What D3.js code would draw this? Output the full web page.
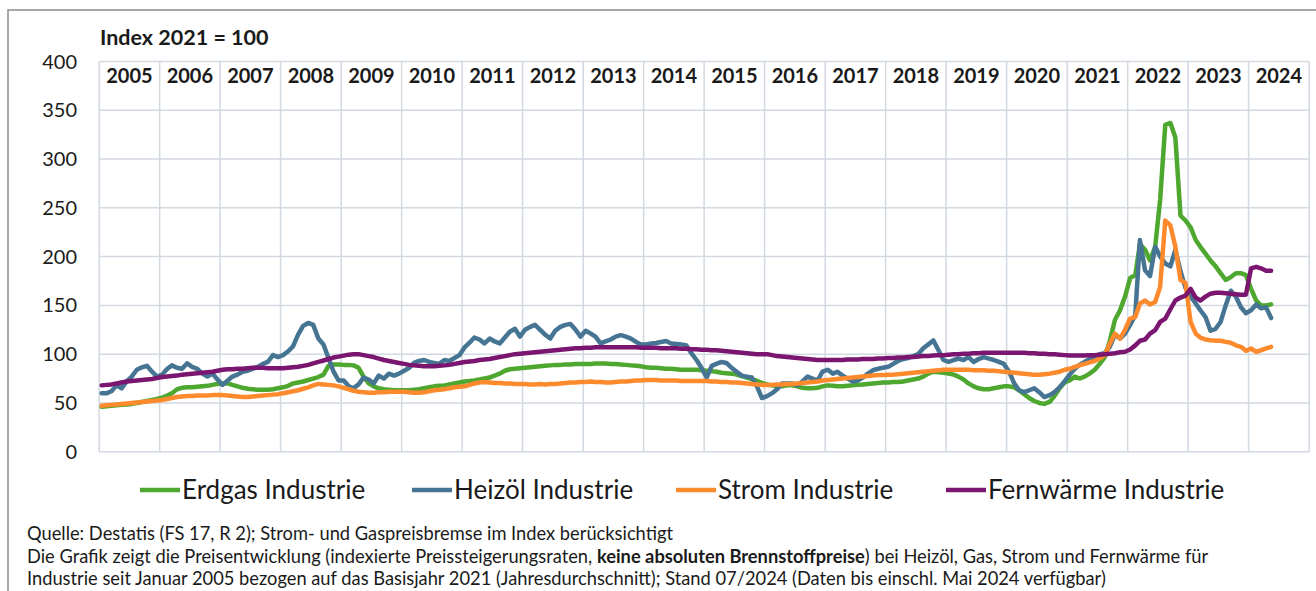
<!DOCTYPE html>
<html>
<head>
<meta charset="utf-8">
<script src="https://cdn.jsdelivr.net/npm/d3@7"></script>
<style>
  body { margin: 0; background: #fff; }
  text { font-family: Lato, "Open Sans", sans-serif; fill: #1a1a1a; }
</style>
</head>
<body>
<div id="chart"></div>
<script>
// monthly index values, Jan 2005 - May 2024 (Index 2021 = 100)
const years = [2005, 2006, 2007, 2008, 2009, 2010, 2011, 2012, 2013, 2014, 2015, 2016, 2017, 2018, 2019, 2020, 2021, 2022, 2023, 2024]
const yTicks = [0, 50, 100, 150, 200, 250, 300, 350, 400]

const erdgas = [
  46, 46.5, 47, 47.5, 48, 48.5, 49, 50, 51, 52, 53, 54,
  55.5, 57.5, 60, 64, 65.5, 66, 66, 66.5, 67, 67.5, 68.5, 69.5,
  70, 70, 68.5, 67, 65.5, 64.5, 64, 63.5, 63.5, 63.5, 64, 65,
  66, 67.5, 70, 71, 72, 73.5, 75, 76.5, 79, 88, 89.5, 89.5,
  89, 89, 88.5, 86, 77, 70, 67, 65, 64, 63.5, 63, 63,
  63, 63, 63.5, 64, 65, 66, 67, 67.5, 68, 69, 70, 71,
  72, 72.5, 73, 74, 75, 76, 78, 80, 83, 84.5, 85, 85.5,
  86, 86.5, 87, 87.5, 88, 88.5, 89, 89, 89.5, 89.5, 90, 90,
  90, 90, 90.5, 90.5, 90.5, 90, 90, 89.5, 89, 88.5, 88, 87.5,
  86.5, 86, 86, 85.5, 85, 85, 84.5, 84, 84, 84, 84, 83.5,
  83, 82.5, 82, 81, 80.5, 80, 79, 77.5, 76, 74.5, 72.5, 70.5,
  69, 68, 67, 67, 68, 68, 67, 65.5, 65, 65, 65.5, 67,
  68, 67.5, 67, 67, 67.5, 68, 68.5, 69, 69.5, 70, 70.5, 71,
  71, 71.5, 71.5, 72, 73, 74, 75, 77, 80, 82, 81.5, 81,
  80, 79, 77, 74, 70, 67, 65, 64, 64, 65, 66, 67,
  67, 66, 63, 59, 55, 52, 50, 49, 51, 57, 65, 71,
  73, 77, 75, 77, 80, 84, 90, 97, 114, 135, 145, 159,
  178, 181, 213, 207, 196, 210, 258, 335, 337, 322, 242, 237,
  230, 217, 210, 203, 196, 190, 183, 176, 179, 183, 183, 181,
  167, 155, 150, 150, 151
]

const heizoel = [
  60, 60, 62, 68, 65, 72, 77, 84, 86.5, 88, 82, 77,
  79, 85, 88.5, 86, 85, 90.5, 87, 85, 80, 77, 80, 74,
  68.5, 73, 77, 79, 82, 83, 85, 87, 90, 92, 99, 97,
  99, 103, 108, 120, 129, 132, 130, 116, 110, 96, 82, 73,
  73, 67, 65, 69, 76, 74, 70, 78, 75, 80, 78, 80,
  83, 86, 91, 93, 94, 92, 91, 90, 94, 93, 96, 99,
  107, 112, 117, 115, 111, 116, 113, 111, 117, 123, 126, 118,
  125, 128, 130, 125, 120, 116, 124, 128, 130, 131, 125, 118,
  124, 121, 118, 111, 113, 115, 118, 119.5, 118, 116, 112.5, 110,
  110, 111, 111.5, 112.5, 113.5, 111, 110.5, 110, 109, 101, 94, 86,
  76, 88, 90, 92, 91, 86, 82, 78, 77, 76, 67, 55,
  57, 60, 64, 70, 70, 70, 68, 72, 77, 75, 73, 82,
  84, 80, 82, 78, 75, 72, 73, 76, 80, 83.5, 85, 86,
  87, 90, 93, 95, 96, 98, 100, 106, 110, 114, 104, 94,
  92, 94, 95.5, 94, 97, 92, 95, 97, 95.5, 94, 92, 90,
  82, 70, 63, 61, 63, 65, 61, 56, 58, 61, 66, 72,
  79, 85, 89, 92, 95, 97, 100, 101, 108, 120, 116, 121,
  130, 140, 217, 186, 180, 210, 200, 193, 190, 207, 185, 168,
  159, 152, 145, 138, 124, 126, 133, 150, 165, 159, 148, 142,
  145, 151, 147, 148, 137
]

const strom = [
  47, 47.5, 48, 48.5, 49, 49.5, 50, 50.5, 51, 51.5, 52, 52.5,
  53, 54, 55, 56, 56.5, 57, 57, 57.5, 57.5, 57.5, 58, 58,
  58, 57.5, 57, 56.5, 56, 56, 56.5, 57, 57.5, 58, 58.5, 59,
  60, 61, 62, 63, 64.5, 66, 68, 69.5, 69, 68.5, 68, 67,
  65.5, 64, 62.5, 61.5, 61, 60.5, 60.5, 61, 61, 61.5, 61.5, 61.5,
  61.5, 61, 60.5, 60.5, 61, 62, 63, 63.5, 64, 65, 66, 66.5,
  67, 68.5, 70, 71, 71.5, 71, 70.5, 70.5, 70, 70, 69.5, 69.5,
  69.5, 69, 69, 69.5, 69, 69.5, 69.5, 70, 70.5, 71, 71, 71.5,
  71.5, 72, 71.5, 71.5, 71, 71, 71.5, 72, 72, 72.5, 73, 73,
  73.5, 73.5, 73.5, 73, 73, 73, 73, 72.5, 72.5, 72.5, 72.5, 72.5,
  72.5, 72, 72, 71.5, 71.5, 71, 71, 70.5, 70, 69.5, 69, 68.5,
  68.5, 68.5, 69, 69, 69.5, 69.5, 70, 70.5, 71, 71.5, 72, 73,
  73.5, 74, 74.5, 75, 75.5, 76, 76.5, 77, 77.5, 78, 78.5, 78.5,
  79, 79, 79.5, 80, 80.5, 81, 81.5, 82, 82.5, 83, 83.5, 84,
  84, 84, 84, 84, 84, 83.5, 83.5, 83.5, 83, 83, 82.5, 82,
  81.5, 81, 80.5, 80, 79.5, 79, 79, 79.5, 80, 81, 82, 84,
  85, 87, 88.5, 90, 91.5, 93, 95.5, 99, 111, 121, 116, 125,
  136.5, 138, 152, 155, 151, 153.5, 169, 237, 232, 210, 176, 173,
  133, 121, 117, 115, 114.3, 113.7, 113.7, 112.6, 111.6, 109, 107.5, 103.4,
  105.8, 102.4, 104, 105.8, 107.5
]

const fernwaerme = [
  68, 68.5, 69, 70, 71, 72, 72.5, 73, 73.5, 74, 74.5, 75.5,
  76.5, 77, 77.5, 78, 79, 79.5, 80, 80.5, 81, 81.5, 82, 83,
  84, 84.5, 84.5, 85, 85, 85.5, 86, 86, 86, 85.5, 85.5, 85.5,
  85.5, 86, 86.5, 87, 88, 89, 90.5, 92, 93.5, 95, 96.5, 97.5,
  98.5, 99.5, 100, 100, 99, 98, 97, 95.5, 94, 93, 92, 91,
  90, 89, 88.5, 88, 87.5, 87.5, 87.5, 88, 88.5, 89, 90, 91,
  92, 92.5, 93, 94, 94.5, 95, 96, 97, 98, 99, 100, 100.5,
  101, 101.5, 102, 102.5, 103, 103.5, 104, 104.5, 105, 105.5, 106, 106,
  106.5, 106.5, 107, 107, 107, 107, 107, 107, 107, 107, 107, 106.5,
  106.5, 106.5, 106.5, 106, 106, 106, 106, 105.5, 105.5, 105, 105, 104.5,
  104.5, 104, 104, 103.5, 103, 102.5, 102, 101.5, 101, 100.5, 100, 100,
  100, 99, 98, 97.5, 97, 96.5, 96, 95.5, 95, 94.5, 94, 94,
  94, 94, 94, 94, 94.5, 94.5, 94.5, 95, 95, 95, 95.5, 95.5,
  96, 96, 96.5, 96.5, 97, 97, 97.5, 98, 98, 98.5, 99, 99,
  99.5, 100, 100, 100.5, 100.5, 101, 101, 101.5, 101.5, 101.5, 101.5, 101.5,
  101.5, 101.5, 101.5, 101.5, 101, 101, 100.5, 100.5, 100, 100, 99.5, 99,
  98.5, 98.5, 98.5, 98.5, 99, 99, 99.5, 100, 100.5, 101, 102, 102.5,
  104.8, 109, 113.7, 115, 121, 124.6, 133, 136.5, 146, 155, 158, 160,
  167, 158, 155, 159, 162, 163, 163, 162.5, 162, 161.5, 161, 161,
  188, 189.5, 188, 185.5, 185.5
]

const seriesNames = ['Erdgas Industrie', 'Heizöl Industrie', 'Strom Industrie', 'Fernwärme Industrie']
const seriesColors = ['#4ea72e', '#467493', '#fd8a2c', '#7a1570']

const footerLines = [
  [{t: 'Quelle: Destatis (FS 17, R 2); Strom- und Gaspreisbremse im Index berücksichtigt'}],
  [{t: 'Die Grafik zeigt die Preisentwicklung (indexierte Preissteigerungsraten, '},
   {t: 'keine absoluten Brennstoffpreise', b: true},
   {t: ') bei Heizöl, Gas, Strom und Fernwärme für'}],
  [{t: 'Industrie seit Januar 2005 bezogen auf das Basisjahr 2021 (Jahresdurchschnitt); Stand 07/2024 (Daten bis einschl. Mai 2024 verfügbar)'}]
]

const width = 1316
const height = 591
const plot = {left: 99.2, right: 1309.2, top: 61.5, bottom: 451.7}

const svg = d3.select('#chart')
  .append('svg')
  .attr('width', width)
  .attr('height', height)

// outer frame
svg.append('rect')
  .attr('x', 8).attr('y', 10)
  .attr('width', 1330).attr('height', 620)
  .attr('fill', 'none')
  .attr('stroke', '#8c8c8c')
  .attr('stroke-width', 1.5)

const xScale = d3.scaleTime()
  .domain([new Date(2005, 0, 1), new Date(2025, 0, 1)])
  .range([plot.left, plot.right])

const yScale = d3.scaleLinear()
  .domain([0, 400])
  .range([plot.bottom, plot.top])

// grid
const grid = svg.append('g').attr('stroke', '#d2d9e1').attr('stroke-width', 1.5)
grid.selectAll('line.h')
  .data(yTicks)
  .join('line')
  .attr('class', 'h')
  .attr('x1', plot.left).attr('x2', plot.right)
  .attr('y1', d => yScale(d)).attr('y2', d => yScale(d))
grid.selectAll('line.v')
  .data(years.concat([2025]))
  .join('line')
  .attr('class', 'v')
  .attr('x1', d => xScale(new Date(d, 0, 1))).attr('x2', d => xScale(new Date(d, 0, 1)))
  .attr('y1', plot.top).attr('y2', plot.bottom)

// y labels
svg.append('g')
  .selectAll('text')
  .data(yTicks)
  .join('text')
  .attr('x', 77)
  .attr('y', d => yScale(d))
  .attr('dy', '0.35em')
  .attr('text-anchor', 'end')
  .style('font-size', '20px')
  .text(d => d)

// year labels in the header row
svg.append('g')
  .selectAll('text')
  .data(years)
  .join('text')
  .attr('x', d => (xScale(new Date(d, 0, 1)) + xScale(new Date(d + 1, 0, 1))) / 2)
  .attr('y', 83)
  .attr('text-anchor', 'middle')
  .style('font-size', '20px')
  .style('font-weight', 'bold')
  .text(d => d)

svg.append('text')
  .attr('x', 100).attr('y', 45)
  .style('font-size', '21.5px')
  .style('font-weight', 'bold')
  .text('Index 2021 = 100')

// lines
const allSeries = [erdgas, heizoel, strom, fernwaerme]
const line = d3.line()
  .x((d, i) => xScale(new Date(2005, i, 16)))
  .y(d => yScale(d))

svg.append('g')
  .selectAll('path')
  .data(allSeries)
  .join('path')
  .attr('d', d => line(d))
  .attr('fill', 'none')
  .attr('stroke', (d, i) => seriesColors[i])
  .attr('stroke-width', 4.5)
  .attr('stroke-linejoin', 'round')
  .attr('stroke-linecap', 'round')

// legend
const legendX = [140, 412, 676, 946]
const legend = svg.append('g')
  .selectAll('g')
  .data(seriesNames)
  .join('g')
  .attr('transform', (d, i) => `translate(${legendX[i]},490)`)
legend.append('line')
  .attr('x1', 0).attr('x2', 40)
  .attr('stroke', (d, i) => seriesColors[i])
  .attr('stroke-width', 4.5)
legend.append('text')
  .attr('x', 42)
  .attr('dy', '0.35em')
  .style('font-size', '26px')
  .text(d => d)

// footer
const footer = svg.append('g')
footer.selectAll('text')
  .data(footerLines)
  .join('text')
  .attr('x', 27)
  .attr('y', (d, i) => 540 + i * 22.5)
  .style('font-size', '18.3px')
  .selectAll('tspan')
  .data(d => d)
  .join('tspan')
  .style('font-weight', d => d.b ? 'bold' : null)
  .text(d => d.t)
</script>
</body>
</html>
